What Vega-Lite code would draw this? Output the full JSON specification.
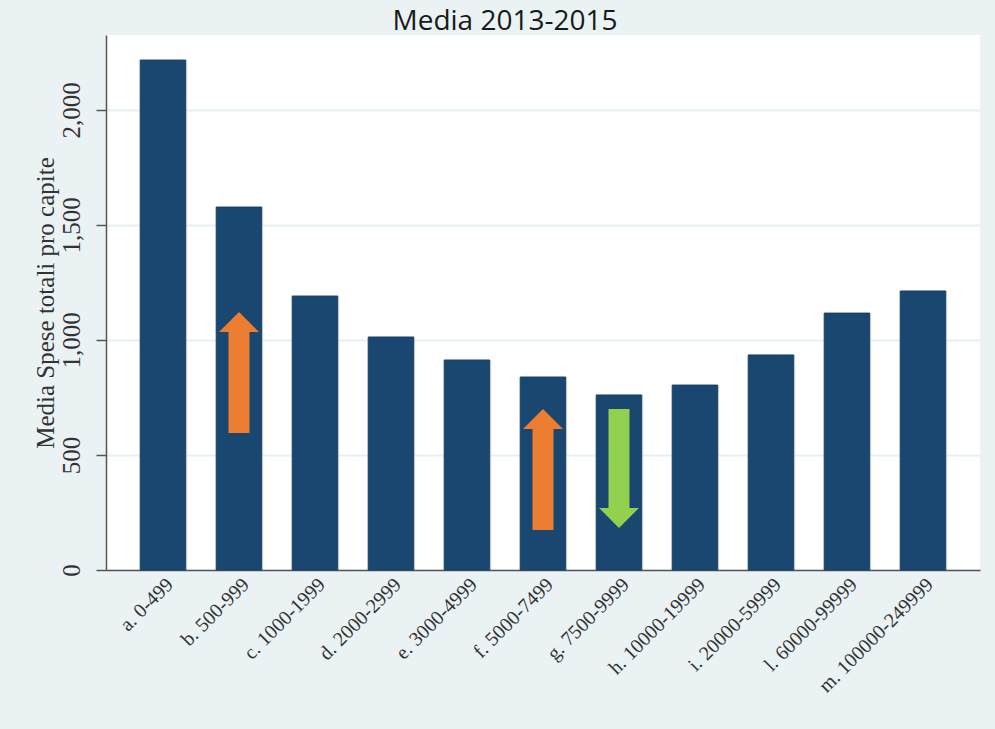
{
  "$schema": "https://vega.github.io/schema/vega-lite/v6.json",
  "autosize": {"type": "none"},
  "width": 874,
  "height": 535,
  "padding": {"left": 106, "top": 35, "right": 15, "bottom": 159},
  "background": "#eaf2f3",
  "view": {"fill": "white", "stroke": null},
  "title": {
    "text": "Media 2013-2015",
    "font": "Open Sans",
    "fontSize": 28,
    "fontWeight": "normal",
    "color": "#1a1a1a",
    "anchor": "middle",
    "offset": -1,
    "dx": -38
  },
  "datasets": {
    "bars": [
      {"classe": "a. 0-499", "spesa": 2217},
      {"classe": "b. 500-999", "spesa": 1578},
      {"classe": "c. 1000-1999", "spesa": 1191},
      {"classe": "d. 2000-2999", "spesa": 1013},
      {"classe": "e. 3000-4999", "spesa": 913},
      {"classe": "f. 5000-7499", "spesa": 839},
      {"classe": "g. 7500-9999", "spesa": 761},
      {"classe": "h. 10000-19999", "spesa": 804},
      {"classe": "i. 20000-59999", "spesa": 935},
      {"classe": "l. 60000-99999", "spesa": 1117},
      {"classe": "m. 100000-249999", "spesa": 1213}
    ],
    "arrows": [
      {"classe": "b. 500-999", "inizio": 596, "fine": 1035, "verso": "su"},
      {"classe": "f. 5000-7499", "inizio": 174, "fine": 613, "verso": "su"},
      {"classe": "g. 7500-9999", "inizio": 700, "fine": 270, "verso": "giu"}
    ]
  },
  "encoding": {
    "x": {
      "field": "classe",
      "type": "nominal",
      "sort": null,
      "scale": {"paddingInner": 0.4, "paddingOuter": 0.45},
      "axis": {
        "title": null,
        "ticks": false,
        "labelAngle": -45,
        "labelFont": "Liberation Serif",
        "labelFontSize": 20,
        "labelColor": "#333333",
        "labelPadding": 4,
        "domainColor": "#555555",
        "domainWidth": 1.5
      }
    }
  },
  "layer": [
    {
      "data": {"name": "bars"},
      "mark": {"type": "bar", "color": "#1a476f", "stroke": "#16406a", "strokeWidth": 1},
      "encoding": {
        "y": {
          "field": "spesa",
          "type": "quantitative",
          "scale": {"domain": [0, 2326], "nice": false},
          "axis": {
            "title": "Media Spese totali pro capite",
            "titleFont": "Liberation Serif",
            "titleFontSize": 25,
            "titleFontWeight": "normal",
            "titleColor": "#333333",
            "titlePadding": 1,
            "values": [0, 500, 1000, 1500, 2000],
            "format": ",d",
            "labelAngle": -90,
            "labelFont": "Liberation Serif",
            "labelFontSize": 25,
            "labelColor": "#333333",
            "labelPadding": 12,
            "tickSize": 10,
            "tickColor": "#555555",
            "tickWidth": 1.5,
            "domainColor": "#555555",
            "domainWidth": 1.5,
            "grid": true,
            "gridColor": "#e6eff2",
            "gridWidth": 2
          }
        }
      }
    },
    {
      "data": {"name": "arrows"},
      "mark": {"type": "bar", "width": 21},
      "encoding": {
        "y": {"field": "inizio", "type": "quantitative"},
        "y2": {"field": "fine"},
        "color": {
          "field": "verso",
          "type": "nominal",
          "scale": {"domain": ["su", "giu"], "range": ["#ed7d31", "#92d050"]},
          "legend": null
        }
      }
    },
    {
      "data": {"name": "arrows"},
      "mark": {"type": "point", "filled": true, "opacity": 1, "size": 1600},
      "encoding": {
        "y": {"field": "fine", "type": "quantitative"},
        "shape": {
          "field": "verso",
          "type": "nominal",
          "scale": {"domain": ["su", "giu"], "range": ["M-1,0L1,0L0,-1Z", "M-1,0L1,0L0,1Z"]},
          "legend": null
        },
        "color": {
          "field": "verso",
          "type": "nominal",
          "scale": {"domain": ["su", "giu"], "range": ["#ed7d31", "#92d050"]},
          "legend": null
        }
      }
    }
  ]
}
